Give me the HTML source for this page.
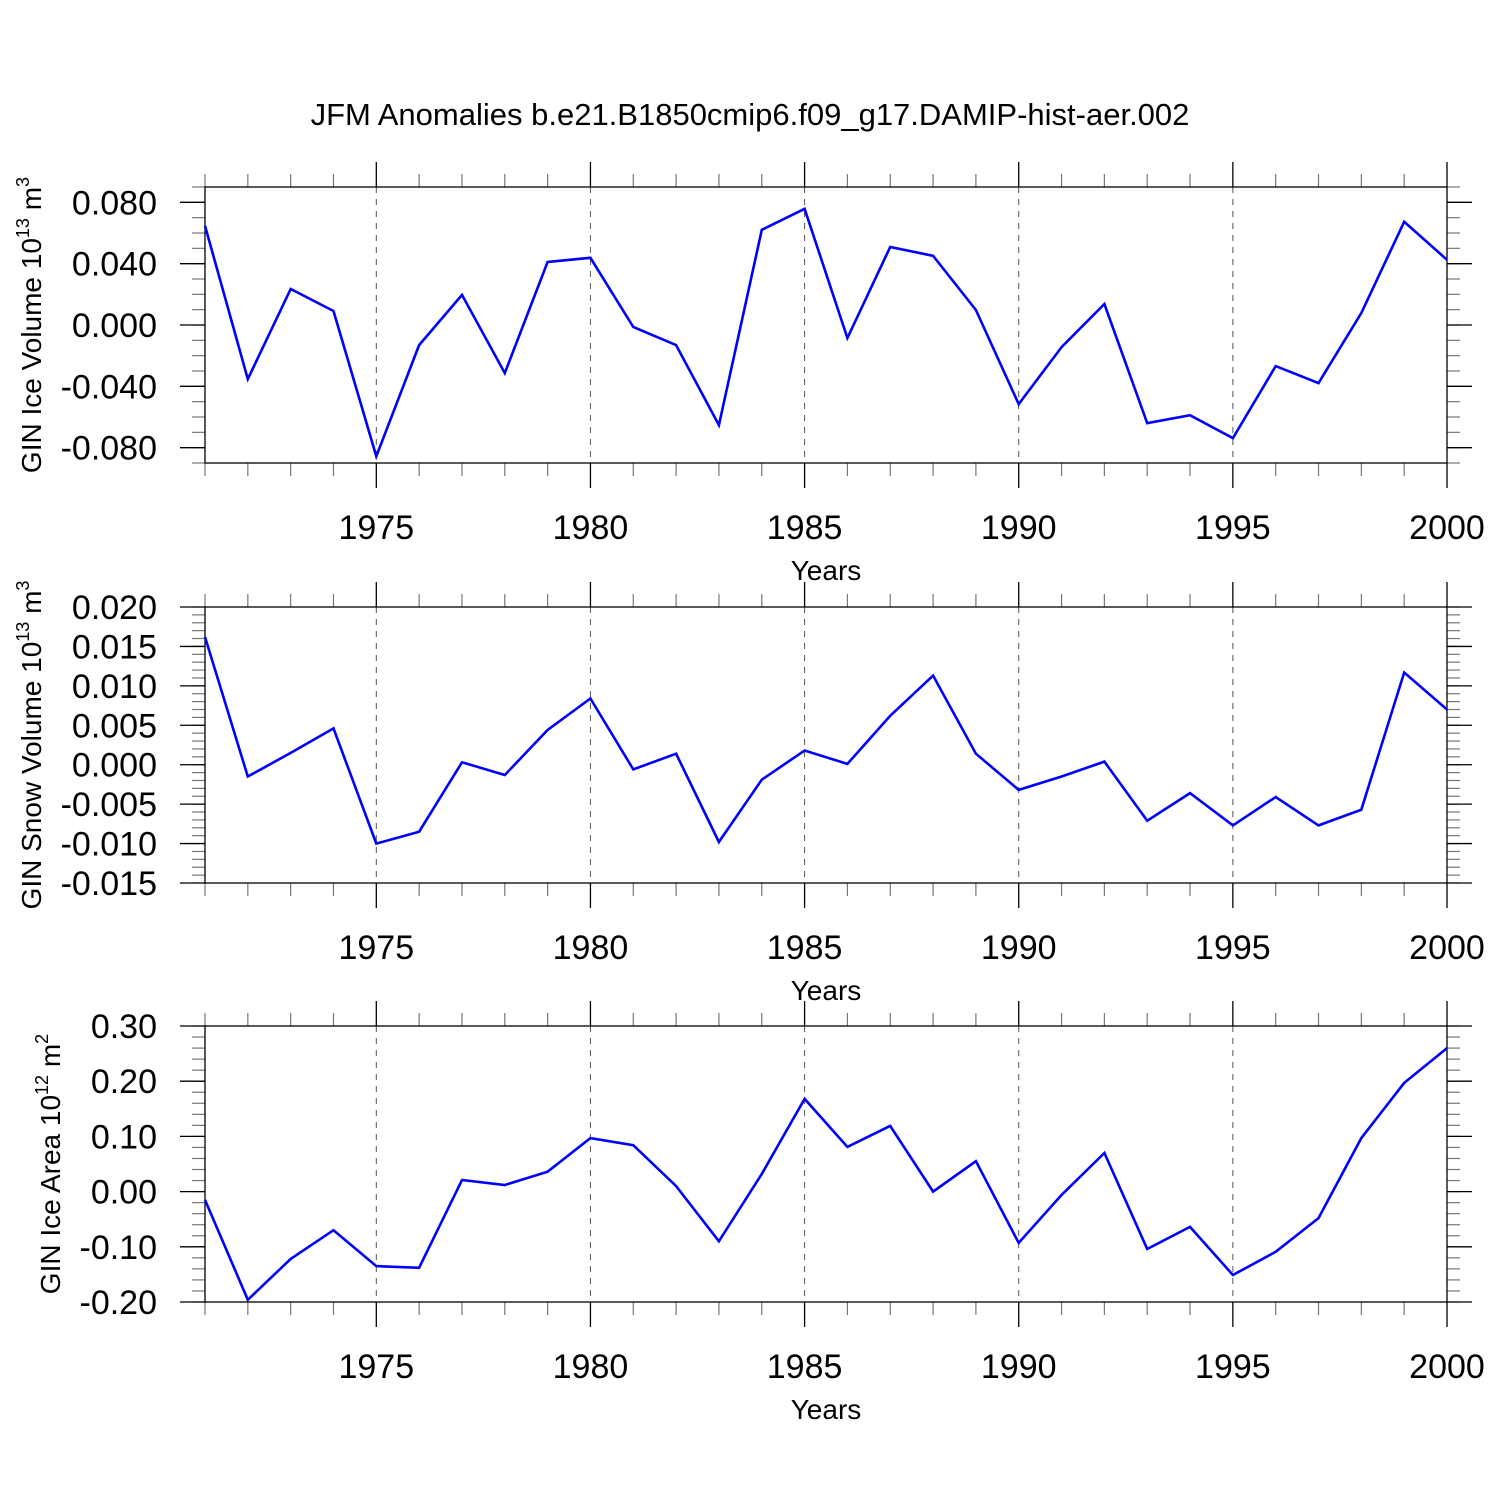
<!DOCTYPE html>
<html><head><meta charset="utf-8"><style>
body{margin:0;background:#fff}
svg{display:block;font-family:"Liberation Sans",Arial,sans-serif}
</style></head><body>
<svg id="chart" width="1500" height="1500" viewBox="0 0 1500 1500" xmlns="http://www.w3.org/2000/svg">
<text x="750" y="125" font-size="31" text-anchor="middle">JFM Anomalies b.e21.B1850cmip6.f09_g17.DAMIP-hist-aer.002</text>
</svg>
<script>
const years = [1971,1972,1973,1974,1975,1976,1977,1978,1979,1980,1981,1982,1983,1984,1985,1986,1987,1988,1989,1990,1991,1992,1993,1994,1995,1996,1997,1998,1999,2000];
const iceVolume = [0.0647,-0.0353,0.0235,0.0091,-0.0856,-0.0131,0.0196,-0.0314,0.0411,0.0438,-0.0013,-0.0131,-0.0653,0.0621,0.0758,-0.0085,0.0509,0.0451,0.0098,-0.0516,-0.0144,0.0137,-0.064,-0.0588,-0.0738,-0.0268,-0.0379,0.0078,0.0673,0.0425];
const snowVolume = [0.0162,-0.0015,0.0015,0.0046,-0.0100,-0.0085,0.0003,-0.0013,0.0044,0.0084,-0.0006,0.0014,-0.0098,-0.0019,0.0018,0.0001,0.0062,0.0113,0.0014,-0.0032,-0.0015,0.0004,-0.0071,-0.0036,-0.0077,-0.0041,-0.0077,-0.0057,0.0117,0.0070];
const iceArea = [-0.015,-0.196,-0.122,-0.070,-0.135,-0.138,0.021,0.012,0.036,0.097,0.084,0.010,-0.090,0.032,0.168,0.081,0.119,0.0,0.055,-0.093,-0.006,0.070,-0.104,-0.064,-0.151,-0.109,-0.048,0.097,0.197,0.260];
const xMajorTicks = [1975,1980,1985,1990,1995,2000];
const iceVolTicks = [-0.08,-0.04,0,0.04,0.08];
const iceVolLabels = ["-0.080","-0.040","0.000","0.040","0.080"];
const snowTicks = [-0.015,-0.01,-0.005,0,0.005,0.01,0.015,0.02];
const snowLabels = ["-0.015","-0.010","-0.005","0.000","0.005","0.010","0.015","0.020"];
const areaTicks = [-0.2,-0.1,0,0.1,0.2,0.3];
const areaLabels = ["-0.20","-0.10","0.00","0.10","0.20","0.30"];

const NS="http://www.w3.org/2000/svg";
const svg=document.getElementById('chart');
function mk(tag,attrs,parent){const e=document.createElementNS(NS,tag);for(const k in attrs)e.setAttribute(k,attrs[k]);(parent||svg).appendChild(e);return e;}
const X0=205,X1=1447;
function xs(y){return X0+(y-1971)*(X1-X0)/29;}

function panel(name,top,ymin,ymax,ticks,labels,minorStep,data,ylabel,exp,unitSup){
  const bot=top+276;
  const ys=v=>bot-(v-ymin)*(bot-top)/(ymax-ymin);
  const g=mk('g',{});
  
  
  for(const t of xMajorTicks){ if(t>=2000) continue;
    const l=mk('line',{x1:xs(t),x2:xs(t),y1:top,y2:bot,stroke:'#555','stroke-width':1,'stroke-dasharray':'6,6'},g);
    
    
  }
  for(let y=1971;y<=2000;y++){
    const major=xMajorTicks.includes(y);
    const len=major?25:13;
    mk('line',{x1:xs(y),x2:xs(y),y1:top-len,y2:top,stroke:major?'#000':'#777','stroke-width':major?1.3:1.2},g);
    mk('line',{x1:xs(y),x2:xs(y),y1:bot,y2:bot+len,stroke:major?'#000':'#777','stroke-width':major?1.3:1.2},g);
  }
  const n=Math.round((ymax-ymin)/minorStep);
  for(let i=0;i<=n;i++){
    const v=ymin+i*minorStep; const yy=ys(v);
    mk('line',{x1:X0-13,x2:X0,y1:yy,y2:yy,stroke:'#777','stroke-width':1.2},g);
    mk('line',{x1:X1,x2:X1+13,y1:yy,y2:yy,stroke:'#777','stroke-width':1.2},g);
  }
  ticks.forEach((v,i)=>{
    const yy=ys(v);
    mk('line',{x1:X0-25,x2:X0,y1:yy,y2:yy,stroke:'#000','stroke-width':1.3},g);
    mk('line',{x1:X1,x2:X1+25,y1:yy,y2:yy,stroke:'#000','stroke-width':1.3},g);
    const t=mk('text',{x:157,y:yy+12,'font-size':34,'text-anchor':'end'},g);
    t.textContent=labels[i];
    
    
  });
  xMajorTicks.forEach(y=>{
    const t=mk('text',{x:xs(y),y:bot+76,'font-size':34,'text-anchor':'middle'},g);
    t.textContent=String(y);
    
    
  });
  const xt=mk('text',{x:826,y:bot+117,'font-size':28,'text-anchor':'middle'},g);
  xt.textContent='Years';
  
  
  const yt=mk('text',{transform:`translate(${name==='ice-area'?60:41},${top+138}) rotate(-90)`,'font-size':28,'text-anchor':'middle'},g);
  
  
  yt.innerHTML=ylabel+' 10<tspan dy="-12" font-size="18">'+exp+'</tspan><tspan dy="12"> m</tspan><tspan dy="-12" font-size="18">'+unitSup+'</tspan>';
  const r=mk('rect',{x:X0,y:top,width:X1-X0,height:bot-top,fill:'none',stroke:'#000','stroke-width':1.3},g);
  
  
  const pts=data.map((v,i)=>xs(years[i]).toFixed(1)+','+ys(v).toFixed(1)).join(' ');
  const pl=mk('polyline',{points:pts,fill:'none',stroke:'#0000ff','stroke-width':2.6,'stroke-linejoin':'miter'},g);
  
  
}
panel('ice-volume',187,-0.09,0.09,iceVolTicks,iceVolLabels,0.01,iceVolume,'GIN Ice Volume','13','3');
panel('snow-volume',607,-0.015,0.02,snowTicks,snowLabels,0.001,snowVolume,'GIN Snow Volume','13','3');
panel('ice-area',1026,-0.2,0.3,areaTicks,areaLabels,0.02,iceArea,'GIN Ice Area','12','2');
</script>
</body></html>
